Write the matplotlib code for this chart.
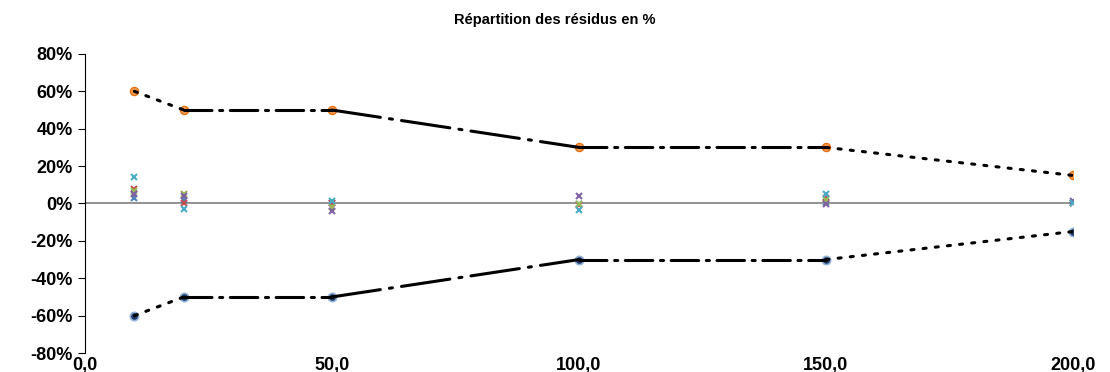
import numpy as np
import matplotlib.pyplot as plt
from matplotlib.ticker import FuncFormatter

plt.rcParams['font.family'] = ['Liberation Sans', 'DejaVu Sans']

# Niveaux de concentration et tolérances
niveaux = [10, 20, 50, 100, 150, 200]
limite_sup = [0.60, 0.50, 0.50, 0.30, 0.30, 0.15]
limite_inf = [-0.60, -0.50, -0.50, -0.30, -0.30, -0.15]

# Résidus par série (fraction)
res_serie1 = [0.03, 0.02, 0.005, -0.005, 0.01, 0.005]
res_serie2 = [0.08, 0.005, 0.0, -0.01, 0.03, 0.005]
res_serie3 = [0.065, 0.053, -0.02, -0.005, 0.02, 0.005]
res_serie4 = [0.05, 0.04, -0.04, 0.04, -0.005, 0.015]
res_serie5 = [0.14, -0.027, 0.015, -0.035, 0.05, 0.0]
couleurs = ['#4F81BD', '#C0504D', '#9BBB59', '#8064A2', '#4BACC6']

fig = plt.figure(figsize=(11.1, 3.72), dpi=100)
ax = fig.add_axes([0.0766, 0.051, 0.89, 0.804])

# segments des limites, chacun avec son style de trait
styles = [(0, (1, 3)), (0, (9, 2.5, 1, 2.5)), (0, (16, 3, 1, 3)),
          (0, (9, 2.5, 1, 2.5)), (0, (1, 3))]
for lim in (limite_sup, limite_inf):
    for i in range(len(niveaux) - 1):
        ax.plot(niveaux[i:i + 2], lim[i:i + 2], color='black', lw=2.2,
                linestyle=styles[i], dash_capstyle='round', zorder=3)

ax.plot(niveaux, limite_sup, 'o', ms=6, mfc='#F79646', mec='#E46C0A', mew=0.8, zorder=2)
ax.plot(niveaux, limite_inf, 'o', ms=6, mfc='#1F3A68', mec='#95B3D7', mew=1.2, zorder=2)

for serie, c in zip([res_serie1, res_serie2, res_serie3, res_serie4, res_serie5], couleurs):
    ax.plot(niveaux, serie, 'x', ms=4, mew=1.5, color=c, zorder=4)

ax.axhline(0, color='#808080', lw=1.2, zorder=1)

ax.set_xlim(0, 200)
ax.set_ylim(-0.8, 0.8)
ax.set_xticks([0, 50, 100, 150, 200])
ax.set_yticks(np.arange(-0.8, 0.81, 0.2))
ax.xaxis.set_major_formatter(FuncFormatter(lambda v, p: f'{v:.1f}'.replace('.', ',')))
ax.yaxis.set_major_formatter(FuncFormatter(lambda v, p: f'{round(v * 100):d}%'))

for s in ['top', 'right', 'bottom']:
    ax.spines[s].set_visible(False)
ax.spines['left'].set_color('black')
ax.tick_params(axis='x', length=0, pad=3, labelsize=13)
ax.tick_params(axis='y', length=5, direction='out', labelsize=13, pad=4)
for lbl in ax.get_xticklabels() + ax.get_yticklabels():
    lbl.set_fontweight('bold')

fig.text(0.5, 0.945, 'Répartition des résidus en %', ha='center', va='center',
         fontsize=10.5, fontweight='bold')

fig.savefig('out.png', dpi=100)
